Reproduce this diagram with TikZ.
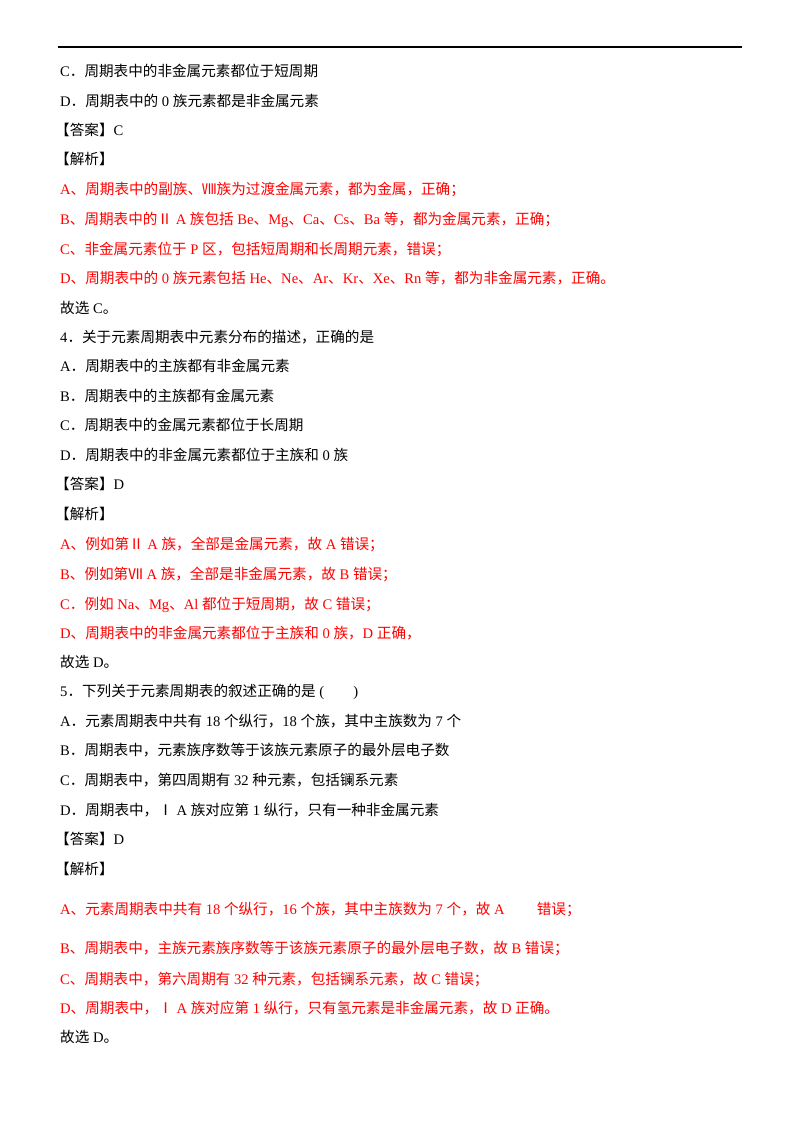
\documentclass[tikz,border=0pt]{standalone}
\usepackage{fontspec}
\setmainfont{Liberation Serif}
\newfontfamily\cjk{Noto Sans CJK SC}
\newfontfamily\lat{Liberation Serif}
\XeTeXinterchartokenstate=1
\newXeTeXintercharclass\cjkclass
\newXeTeXintercharclass\punclass
\makeatletter
\count@="2150 \loop\ifnum\count@<"2190 \XeTeXcharclass\count@=\cjkclass\advance\count@ by 1 \repeat
\count@="3040 \loop\ifnum\count@<"A000 \XeTeXcharclass\count@=\cjkclass\advance\count@ by 1 \repeat
\count@="3000 \loop\ifnum\count@<"3040 \XeTeXcharclass\count@=\punclass\advance\count@ by 1 \repeat
\count@="FF00 \loop\ifnum\count@<"FFF0 \XeTeXcharclass\count@=\punclass\advance\count@ by 1 \repeat
\makeatother
\XeTeXinterchartoks 0 \cjkclass = {\hspace{0.25em}\cjk}
\XeTeXinterchartoks 4095 \cjkclass = {\cjk}
\XeTeXinterchartoks \cjkclass 0 = {\lat\hspace{0.25em}}
\XeTeXinterchartoks \cjkclass 4095 = {\lat}
\XeTeXinterchartoks 0 \punclass = {\cjk}
\XeTeXinterchartoks 4095 \punclass = {\cjk}
\XeTeXinterchartoks \punclass 0 = {\lat}
\XeTeXinterchartoks \punclass 4095 = {\lat}
\definecolor{ans}{RGB}{255,0,0}
\tikzset{t/.style={anchor=base west,inner sep=0pt,font=\fontsize{14.6}{17}\selectfont},r/.style={t,text=ans}}
\begin{document}
\begin{tikzpicture}[x=1pt,y=-1pt]
\useasboundingbox[fill=white] (0,0) rectangle (800,1132);
\coordinate (l1) at (58,47); \coordinate (l2) at (742,47);
\draw[line width=1.2pt] (l1) -- (l2);
\node[t] (n1) at (60,77) {C．周期表中的非金属元素都位于短周期};
\node[t] (n2) at (60,106) {D．周期表中的0族元素都是非金属元素};
\node[t] (n3) at (55,135) {【答案】C};
\node[t] (n4) at (55,164) {【解析】};
\node[r] (n5) at (60,194) {A、周期表中的副族、Ⅷ族为过渡金属元素，都为金属，正确；};
\node[r] (n6) at (60,224) {B、周期表中的Ⅱ A族包括Be、Mg、Ca、Cs、Ba等，都为金属元素，正确；};
\node[r] (n7) at (60,254) {C、非金属元素位于P区，包括短周期和长周期元素，错误；};
\node[r] (n8) at (60,283) {D、周期表中的0族元素包括He、Ne、Ar、Kr、Xe、Rn等，都为非金属元素，正确。};
\node[t] (n9) at (60,313) {故选C。};
\node[t] (n10) at (60,342) {4．关于元素周期表中元素分布的描述，正确的是};
\node[t] (n11) at (60,371) {A．周期表中的主族都有非金属元素};
\node[t] (n12) at (60,401) {B．周期表中的主族都有金属元素};
\node[t] (n13) at (60,430) {C．周期表中的金属元素都位于长周期};
\node[t] (n14) at (60,460) {D．周期表中的非金属元素都位于主族和0族};
\node[t] (n15) at (55,489) {【答案】D};
\node[t] (n16) at (55,519) {【解析】};
\node[r] (n17) at (60,549) {A、例如第Ⅱ A族，全部是金属元素，故A错误；};
\node[r] (n18) at (60,579) {B、例如第Ⅶ A族，全部是非金属元素，故B错误；};
\node[r] (n19) at (60,609) {C．例如Na、Mg、Al都位于短周期，故C错误；};
\node[r] (n20) at (60,638) {D、周期表中的非金属元素都位于主族和0族，D正确，};
\node[t] (n21) at (60,667) {故选D。};
\node[t] (n22) at (60,696) {5．下列关于元素周期表的叙述正确的是(\hspace{2em})};
\node[t] (n23) at (60,726) {A．元素周期表中共有18个纵行，18个族，其中主族数为7个};
\node[t] (n24) at (60,755) {B．周期表中，元素族序数等于该族元素原子的最外层电子数};
\node[t] (n25) at (60,785) {C．周期表中，第四周期有32种元素，包括镧系元素};
\node[t] (n26) at (60,815) {D．周期表中，Ⅰ A族对应第1纵行，只有一种非金属元素};
\node[t] (n27) at (55,844) {【答案】D};
\node[t] (n28) at (55,874) {【解析】};
\node[r] (n29) at (60,914) {A、元素周期表中共有18个纵行，16个族，其中主族数为7个，故A\hspace{2.2em}错误；};
\node[r] (n30) at (60,953) {B、周期表中，主族元素族序数等于该族元素原子的最外层电子数，故B错误；};
\node[r] (n31) at (60,984) {C、周期表中，第六周期有32种元素，包括镧系元素，故C错误；};
\node[r] (n32) at (60,1013) {D、周期表中，Ⅰ A族对应第1纵行，只有氢元素是非金属元素，故D正确。};
\node[t] (n33) at (60,1042) {故选D。};
\end{tikzpicture}
\end{document}
